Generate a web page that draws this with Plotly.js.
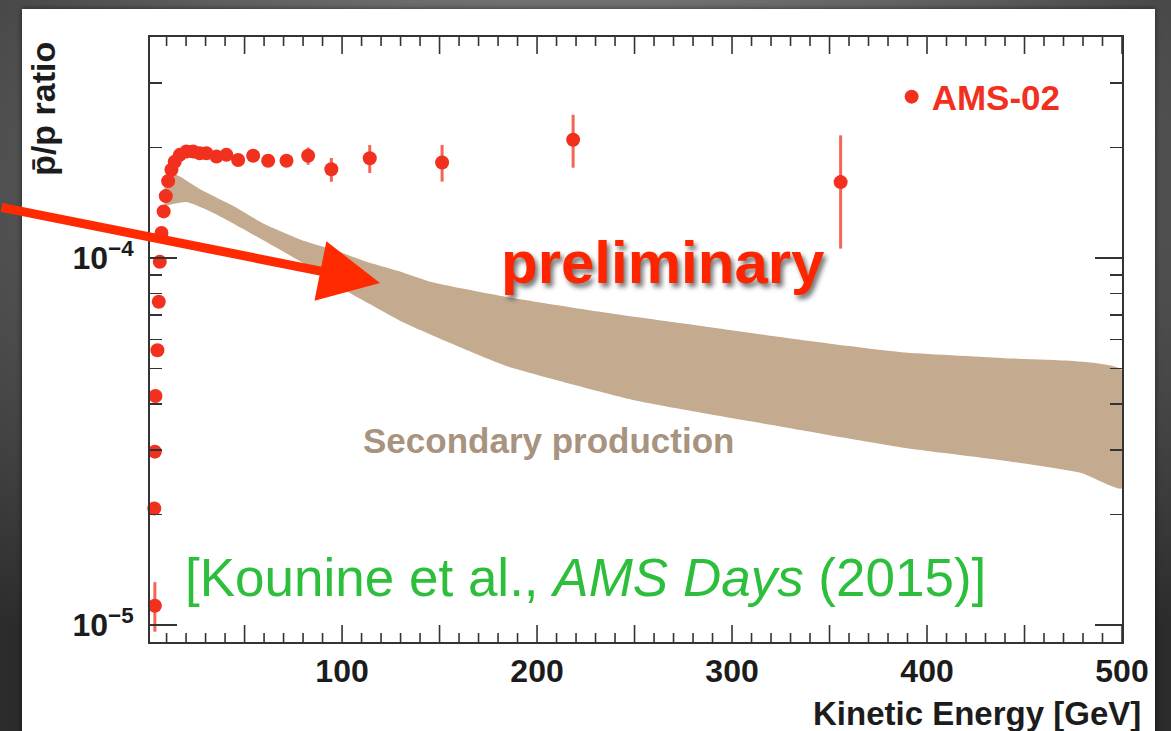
<!DOCTYPE html>
<html>
<head>
<meta charset="utf-8">
<script src="https://cdn.plot.ly/plotly-3.0.1.min.js"></script>
<style>
  html, body { margin: 0; padding: 0; width: 1171px; height: 731px; overflow: hidden; }
  body { background: radial-gradient(ellipse 75% 80% at 50% 25%, #8e8e8e 0%, #5c5c5c 55%, #2c2c2c 100%); position: relative; }
  #panel { position: absolute; left: 22px; top: 9px; width: 1133px; height: 740px; background: #ffffff; box-shadow: 0 0 6px rgba(0,0,0,0.55); }
  #chart { position: absolute; left: 0; top: 0; width: 1171px; height: 731px; }
</style>
</head>
<body>
<div id="panel"></div>
<div id="chart"></div>
<script>
// ---- AMS-02 antiproton / proton ratio ----
const amsEnergy = [4.0, 3.7, 4.0, 4.3, 5.3, 6.0, 6.5, 7.4, 8.5, 9.6, 10.8, 12.5, 14.2, 16.8, 20.2, 23.6, 27.0, 30.4, 35.6, 40.7, 46.7, 54.4, 62.1, 71.5, 82.6, 94.5, 114.2, 151.3, 218.5, 355.7];
const amsRatio  = [1.13e-5, 2.08e-5, 2.97e-5, 4.21e-5, 5.61e-5, 7.60e-5, 9.77e-5, 1.17e-4, 1.34e-4, 1.475e-4, 1.62e-4, 1.74e-4, 1.83e-4, 1.91e-4, 1.95e-4, 1.95e-4, 1.93e-4, 1.93e-4, 1.89e-4, 1.91e-4, 1.85e-4, 1.90e-4, 1.84e-4, 1.84e-4, 1.90e-4, 1.745e-4, 1.87e-4, 1.82e-4, 2.10e-4, 1.61e-4];
const amsErrUp   = [1.8e-6, 0.6e-6, 0.8e-6, 1.0e-6, 1.2e-6, 1.5e-6, 2.0e-6, 2.0e-6, 2.0e-6, 2.0e-6, 2.0e-6, 2.0e-6, 2.0e-6, 2.0e-6, 2.0e-6, 2.0e-6, 2.0e-6, 2.0e-6, 2.5e-6, 3.0e-6, 3.5e-6, 4.0e-6, 5.0e-6, 6.0e-6, 1.0e-5, 1.28e-5, 1.62e-5, 2.13e-5, 3.56e-5, 5.49e-5];
const amsErrDown = [1.7e-6, 0.6e-6, 0.8e-6, 1.0e-6, 1.2e-6, 1.5e-6, 2.0e-6, 2.0e-6, 2.0e-6, 2.0e-6, 2.0e-6, 2.0e-6, 2.0e-6, 2.0e-6, 2.0e-6, 2.0e-6, 2.0e-6, 2.0e-6, 2.5e-6, 3.0e-6, 3.5e-6, 4.0e-6, 5.0e-6, 6.0e-6, 1.05e-5, 1.31e-5, 1.66e-5, 2.05e-5, 3.38e-5, 5.49e-5];

// ---- Secondary production band (upper / lower edges) ----
const bandUpperEnergy = [8.9, 15.1, 27.9, 43.3, 60.2, 79.2, 96.1, 113.0, 130.4, 145.8, 181.7, 233.0, 284.3, 335.6, 386.9, 438.1, 500.0];
const bandUpper       = [1.673e-4, 1.684e-4, 1.532e-4, 1.394e-4, 1.238e-4, 1.120e-4, 1.051e-4, 0.975e-4, 0.916e-4, 0.860e-4, 0.788e-4, 0.713e-4, 0.653e-4, 0.598e-4, 0.554e-4, 0.534e-4, 0.495e-4];
const bandLowerEnergy = [8.9, 20.2, 33.0, 48.4, 63.8, 79.2, 96.1, 113.0, 130.4, 156.1, 184.3, 249.9, 315.1, 386.9, 438.1, 479.2, 500.0];
const bandLower       = [1.386e-4, 1.421e-4, 1.335e-4, 1.207e-4, 1.085e-4, 0.975e-4, 0.850e-4, 0.755e-4, 0.672e-4, 0.585e-4, 0.508e-4, 0.410e-4, 0.355e-4, 0.305e-4, 0.2815e-4, 0.2596e-4, 0.236e-4];

// ---- axis ticks ----
const xLabelVals = [100, 200, 300, 400, 500];
const xLabelText = ['100', '200', '300', '400', '500'];
const xTallTickVals = [50, 100, 150, 200, 250, 300, 350, 400, 450, 500];
const xShortTickVals = [10, 20, 30, 40, 60, 70, 80, 90, 110, 120, 130, 140, 160, 170, 180, 190, 210, 220, 230, 240,
                        260, 270, 280, 290, 310, 320, 330, 340, 360, 370, 380, 390, 410, 420, 430, 440, 460, 470, 480, 490];
const yTickVals = [1e-5, 1e-4];
const yTickText = ['10<sup>\u22125</sup>', '10<sup>\u22124</sup>'];
const yMinorVals = [2e-5, 3e-5, 4e-5, 5e-5, 6e-5, 7e-5, 8e-5, 9e-5, 2e-4, 3e-4, 4e-4];
const xRange = [1.5, 500];

const red = '#f2301e';
const font = 'Liberation Sans, Arial, sans-serif';
const plotHeightPx = 731 - 37 - 89;

const band = {
  x: bandUpperEnergy.concat(bandLowerEnergy.slice().reverse()),
  y: bandUpper.concat(bandLower.slice().reverse()),
  type: 'scatter', mode: 'lines', fill: 'toself',
  fillcolor: '#c4aa8e', line: {width: 0, color: '#c4aa8e', shape: 'spline', smoothing: 0.5},
  showlegend: false, hoverinfo: 'skip'
};
const ams = {
  x: amsEnergy, y: amsRatio, type: 'scatter', mode: 'markers', name: 'AMS-02',
  marker: {color: red, size: 14},
  error_y: {type: 'data', symmetric: false, array: amsErrUp, arrayminus: amsErrDown,
            color: 'rgba(242,48,30,0.75)', thickness: 3, width: 0},
  cliponaxis: false
};

// x-axis tick marks (ROOT style: inside, on bottom and mirrored on top)
function tickShapes(vals, lenPx) {
  const f = lenPx / plotHeightPx;
  const out = [];
  vals.forEach(v => {
    out.push({type: 'line', xref: 'x', yref: 'paper', x0: v, x1: v, y0: 0, y1: f, line: {color: '#333', width: 1.6}, layer: 'above'});
    out.push({type: 'line', xref: 'x', yref: 'paper', x0: v, x1: v, y0: 1, y1: 1 - f, line: {color: '#333', width: 1.6}, layer: 'above'});
  });
  return out;
}

const layout = {
  width: 1171, height: 731,
  margin: {l: 150, r: 49, t: 37, b: 89},
  paper_bgcolor: 'rgba(0,0,0,0)', plot_bgcolor: '#ffffff',
  showlegend: true,
  legend: {x: 0.763, y: 0.901, xanchor: 'left', yanchor: 'middle', bgcolor: 'rgba(0,0,0,0)',
           font: {family: font, size: 35, weight: 'bold', color: red}},
  xaxis: {
    range: xRange, showline: true, linecolor: '#333', linewidth: 2, mirror: true,
    ticks: '', showgrid: false, zeroline: false,
    tickmode: 'array', tickvals: xLabelVals, ticktext: xLabelText,
    tickfont: {family: font, size: 32, weight: 'bold', color: '#1c1c1c'}
  },
  yaxis: {
    type: 'log', range: [Math.log10(9e-6), Math.log10(4e-4)],
    showline: true, linecolor: '#333', linewidth: 2, mirror: 'ticks',
    ticks: 'inside', tickcolor: '#333', tickwidth: 1.5, ticklen: 27,
    showgrid: false, zeroline: false,
    tickmode: 'array', tickvals: yTickVals, ticktext: yTickText, ticklabelstandoff: 8,
    tickfont: {family: font, size: 32, weight: 'bold', color: '#1c1c1c'},
    minor: {ticks: 'inside', ticklen: 12, tickmode: 'array', tickvals: yMinorVals, tickcolor: '#333', tickwidth: 1.5, showgrid: false}
  },
  shapes: tickShapes(xTallTickVals, 17).concat(tickShapes(xShortTickVals, 9)),
  annotations: [
    {text: 'p\u0304/p ratio', xref: 'paper', yref: 'paper', x: -0.1096, y: 0.882, textangle: -90,
     xanchor: 'center', yanchor: 'middle', showarrow: false,
     font: {family: font, size: 34, weight: 'bold', color: '#1c1c1c'}},
    {text: 'Kinetic Energy [GeV]', xref: 'paper', yref: 'paper', x: 1.022, y: -0.118,
     xanchor: 'right', yanchor: 'middle', showarrow: false,
     font: {family: font, size: 33, weight: 'bold', color: '#1c1c1c'}},
    {text: 'preliminary', xref: 'paper', yref: 'paper', x: 0.5278, y: 0.628,
     xanchor: 'center', yanchor: 'middle', showarrow: false,
     font: {family: font, size: 60, weight: 'bold', color: '#ff2400',
            shadow: '3px 4px 5px rgba(0,0,0,0.55)'}},
    {text: 'Secondary production', xref: 'paper', yref: 'paper', x: 0.4095, y: 0.333,
     xanchor: 'center', yanchor: 'middle', showarrow: false,
     font: {family: font, size: 35, weight: 'bold', color: '#a8937f'}},
    {text: '[Kounine et al., <i>AMS Days</i> (2015)]', xref: 'paper', yref: 'paper', x: 0.034, y: 0.1074,
     xanchor: 'left', yanchor: 'middle', showarrow: false,
     font: {family: font, size: 53, color: '#2dbf3c'}},
    {text: '', xref: 'paper', yref: 'paper', x: 0.2366, y: 0.5934, ax: -380, ay: -76,
     showarrow: true, arrowhead: 2, arrowwidth: 9, arrowsize: 1.35, arrowcolor: '#ff2a00', standoff: 0}
  ]
};

Plotly.newPlot('chart', [band, ams], layout, {staticPlot: true, displayModeBar: false});
</script>
</body>
</html>
